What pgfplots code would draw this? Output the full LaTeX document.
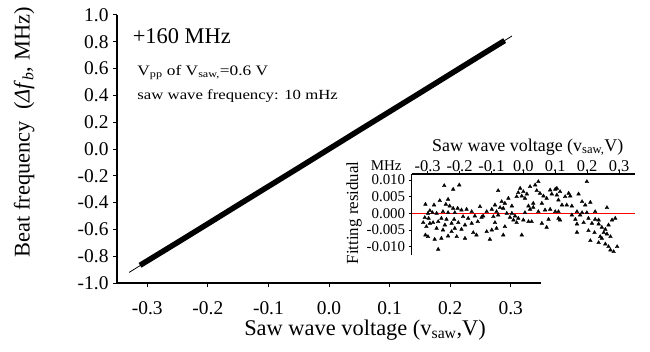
\documentclass[border=0pt]{standalone}
\usepackage{fontspec}
\setmainfont{Liberation Serif}
\newfontfamily\wideserif[FakeStretch=1.2]{Liberation Serif}
\usepackage{pgfplots}
\pgfplotsset{compat=1.18}
\begin{document}
\begin{tikzpicture}[x=1bp,y=1bp]
\path[use as bounding box] (0,0) rectangle (650,351);
\begin{axis}[
  at={(117bp,68bp)}, anchor=south west,
  width=424bp, height=268bp, scale only axis,
  xmin=-0.35, xmax=0.35, ymin=-1, ymax=1,
  axis x line*=bottom, axis y line*=left,
  axis line style={line width=1.3bp,-},
  xtick={-0.3,-0.2,-0.1,0,0.1,0.2,0.3},
  ytick={-1,-0.8,-0.6,-0.4,-0.2,0,0.2,0.4,0.6,0.8,1},
  tick align=outside, major tick length=4bp,
  tick style={line width=1bp,black},
  /pgf/number format/.cd, fixed, fixed zerofill, precision=1, assume math mode=true,
  /pgfplots/.cd,
  tick label style={font=\fontsize{19.5}{19.5}\selectfont},
  xticklabel style={yshift=-11bp},
  yticklabel style={xshift=-1bp},
  xlabel={Saw wave voltage (v\textsubscript{saw},V)},
  xlabel style={font=\fontsize{22.5}{22.5}\selectfont, at={(axis description cs:0.585,0)}, anchor=base, yshift=-52bp},
  ylabel={Beat frequency\ \ (\textit{Δf}\textsubscript{\textit{b}}, MHz)},
  ylabel style={font=\fontsize{22.5}{22.5}\selectfont, at={(axis description cs:-0.219,0.562)}, anchor=center},
  clip=false,
]
\addplot[black, line width=0.8bp] coordinates {(-0.330,-0.921) (0.302,0.843)};
\addplot[black, line width=5.5bp] coordinates {
(-0.312,-0.868) (-0.25,-0.697) (-0.2,-0.558) (-0.15,-0.418) (-0.1,-0.279)
(-0.05,-0.140) (0.0,0.0) (0.05,0.140) (0.1,0.279) (0.15,0.418) (0.2,0.558) (0.25,0.698) (0.290,0.809)};
\node[anchor=west, font=\fontsize{22.5}{22.5}\selectfont] at (rel axis cs:0.029,0.922) {+160 MHz};
\node[anchor=base west, font=\wideserif\fontsize{14.5}{14.5}\selectfont] at (rel axis cs:0.040,0.776) {V\textsubscript{pp} of V\textsubscript{saw,}=0.6 V};
\node[anchor=base west, font=\wideserif\fontsize{14}{14}\selectfont] at (rel axis cs:0.040,0.683) {saw wave frequency: 10 mHz};
\end{axis}
\begin{axis}[
  at={(411.7bp,177bp)}, anchor=north west,
  width=223.3bp, height=81bp, scale only axis,
  xmin=-0.35, xmax=0.35, ymin=-0.0125, ymax=0.0118,
  axis x line*=top, axis y line*=left,
  axis line style={line width=1.1bp,-},
  xtick={-0.3,-0.2,-0.1,0,0.1,0.2,0.3},
  ytick={-0.01,-0.005,0,0.005,0.01},
  scaled y ticks=false,
  tick align=outside, major tick length=3bp,
  tick style={line width=0.8bp,black},
  xticklabel style={font=\fontsize{16.5}{16.5}\selectfont, yshift=-4bp, /pgf/number format/.cd, fixed, fixed zerofill, precision=1, assume math mode=true},
  yticklabel style={font=\fontsize{15}{15}\selectfont, /pgf/number format/.cd, fixed, fixed zerofill, precision=3, assume math mode=true},
  xlabel={Saw wave voltage (v\textsubscript{saw,}V)},
  xlabel style={font=\fontsize{18}{18}\selectfont, at={(axis description cs:0.52,1)}, anchor=base, yshift=23bp},
  ylabel={Fitting residual},
  ylabel style={font=\fontsize{17}{17}\selectfont, at={(axis description cs:-0.258,0.52)}, anchor=center},
  clip=false,
]
\addplot[red, line width=1bp] coordinates {(-0.35,0) (0.35,0)};
\addplot[only marks, mark=triangle*, mark size=2.1bp, black] coordinates {
(-0.248,0.0083) (-0.201,0.0085) (-0.220,0.0072) (-0.307,0.0027) (-0.280,0.0025)
(-0.262,0.0038) (-0.236,0.0042) (-0.243,0.0027) (-0.231,0.0022) (-0.220,0.0015)
(-0.206,0.0015) (-0.293,0.0008) (-0.285,0.0002) (-0.299,0.0) (-0.272,0.0)
(-0.252,0.0005) (-0.236,0.0002) (-0.215,0.0002) (-0.194,0.0010) (-0.178,0.0012)
(-0.162,0.0005) (-0.136,0.0020) (-0.309,-0.0013) (-0.297,-0.0015) (-0.257,-0.0015)
(-0.241,-0.0018) (-0.217,-0.0018) (-0.189,-0.0010) (-0.173,-0.0015) (-0.152,-0.0008)
(-0.131,-0.0012) (-0.314,-0.0028) (-0.293,-0.0030) (-0.283,-0.0028) (-0.267,-0.0025)
(-0.246,-0.0035) (-0.225,-0.0030) (-0.204,-0.0028) (-0.183,-0.0035) (-0.162,-0.0030)
(-0.143,-0.0025) (-0.304,-0.0040) (-0.272,-0.0045) (-0.252,-0.0050) (-0.215,-0.0045)
(-0.194,-0.0048) (-0.307,-0.0065) (-0.299,-0.0070) (-0.278,-0.0078) (-0.257,-0.0075)
(-0.236,-0.0068) (-0.209,-0.0070) (-0.183,-0.0075) (-0.157,-0.0058) (-0.147,-0.0065)
(-0.267,-0.0108) (-0.225,-0.0055)
(0.047,0.0095) (0.037,0.0085) (0.021,0.0080) (-0.010,0.0075) (0.000,0.0065)
(0.011,0.0058) (-0.016,0.0062) (-0.005,0.0052) (-0.021,0.0050) (0.005,0.0045)
(0.042,0.0068) (0.052,0.0060) (0.063,0.0052) (0.073,0.0045) (0.084,0.0070)
(0.100,0.0072) (0.089,0.0058) (0.105,0.0055) (0.110,0.0040) (0.058,0.0030)
(0.031,0.0030) (0.016,0.0022) (-0.079,0.0068) (-0.047,0.0045) (-0.068,0.0035)
(-0.058,0.0030) (-0.089,0.0025) (-0.036,0.0022) (-0.073,0.0017) (-0.063,0.0015)
(-0.084,0.0005) (-0.099,0.0012) (-0.115,0.0005) (-0.126,-0.0008) (-0.094,-0.0010)
(-0.079,-0.0005) (-0.052,0.0) (-0.036,0.0) (-0.026,-0.0008) (-0.042,-0.0012)
(-0.031,-0.0020) (-0.016,-0.0015) (0.005,0.0002) (0.021,0.0012) (0.031,0.0018)
(0.047,0.0005) (0.068,0.0010) (0.084,0.0012) (0.100,0.0005) (-0.021,-0.0028)
(0.000,-0.0020) (0.016,-0.0025) (0.026,-0.0025) (0.058,-0.0030) (0.073,-0.0042)
(0.079,-0.0018) (0.110,-0.0015) (-0.089,-0.0028) (-0.115,-0.0055) (-0.084,-0.0045)
(-0.099,-0.0050) (-0.058,-0.0040) (-0.063,-0.0065) (-0.005,-0.0065) (-0.105,-0.0078)
(0.199,0.0095) (0.105,0.0075) (0.115,0.0065) (0.142,0.0060) (0.147,0.0052)
(0.173,0.0058) (0.131,0.0050) (0.184,0.0035) (0.210,0.0033) (0.194,0.0025)
(0.121,0.0025) (0.136,0.0025) (0.152,0.0022) (0.262,0.0017) (0.110,0.0005)
(0.168,0.0005) (0.184,0.0002) (0.199,0.0002) (0.225,0.0005) (0.152,-0.0005)
(0.178,-0.0005) (0.163,-0.0018) (0.204,-0.0015) (0.225,-0.0018) (0.236,-0.0020)
(0.288,-0.0015) (0.278,-0.0020) (0.115,-0.0020) (0.168,-0.0032) (0.189,-0.0028)
(0.215,-0.0030) (0.236,-0.0032) (0.246,-0.0042) (0.267,-0.0035) (0.257,-0.0048)
(0.204,-0.0052) (0.223,-0.0058) (0.252,-0.0058) (0.262,-0.0062) (0.241,-0.0070)
(0.273,-0.0070) (0.168,-0.0057) (0.210,-0.0082) (0.236,-0.0088) (0.257,-0.0092)
(0.267,-0.0100) (0.294,-0.0100) (0.273,-0.0110) (0.283,-0.0115) (0.246,-0.0075)
};
\node[anchor=base east, font=\fontsize{15}{15}\selectfont] at (rel axis cs:-0.03,1) [yshift=4bp] {MHz};
\end{axis}
\end{tikzpicture}
\end{document}
